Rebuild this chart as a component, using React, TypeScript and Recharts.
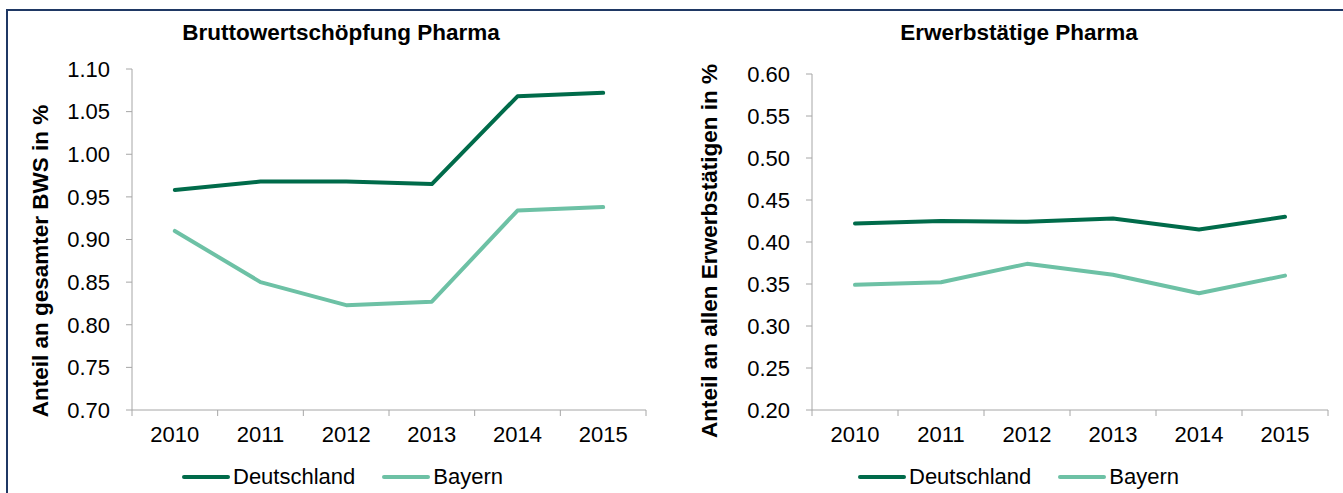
import { CartesianGrid, Legend, Line, LineChart, XAxis, YAxis } from "recharts";

const years = ["2010", "2011", "2012", "2013", "2014", "2015"];

// Bruttowertschöpfung Pharma, Anteil an gesamter BWS in %
const bwsDeutschland = [0.958, 0.968, 0.968, 0.965, 1.068, 1.072];
const bwsBayern = [0.91, 0.85, 0.823, 0.827, 0.934, 0.938];
const bwsTicks = [0.7, 0.75, 0.8, 0.85, 0.9, 0.95, 1.0, 1.05, 1.1];

// Erwerbstätige Pharma, Anteil an allen Erwerbstätigen in %
const etDeutschland = [0.422, 0.425, 0.424, 0.428, 0.415, 0.43];
const etBayern = [0.349, 0.352, 0.374, 0.361, 0.339, 0.36];
const etTicks = [0.2, 0.25, 0.3, 0.35, 0.4, 0.45, 0.5, 0.55, 0.6];

const FONT = "'Liberation Sans', Arial, sans-serif";
const DARK = "#006B4A";
const LIGHT = "#6DC1A5";
const GREY = "#A6A6A6";

const AxisTitle = ({ cx, cy, text }: any) => (
  <text
    x={cx}
    y={cy}
    transform={`rotate(-90 ${cx} ${cy})`}
    textAnchor="middle"
    dominantBaseline="central"
    fontFamily={FONT}
    fontSize={22.5}
    fontWeight="bold"
    fill="#000"
  >
    {text}
  </text>
);

// excel style: tick marks sit between the categories
const YearTick = ({ x, y, payload, index, visibleTicksCount }: any) => {
  const half = payload?.offset || 43;
  const top = y - 16;
  return (
    <g>
      <line x1={x - half} x2={x - half} y1={top} y2={top + 6} stroke={GREY} />
      {index === visibleTicksCount - 1 && (
        <line x1={x + half} x2={x + half} y1={top} y2={top + 6} stroke={GREY} />
      )}
      <text x={x} y={y} dy="0.71em" textAnchor="middle" fontFamily={FONT} fontSize={22} fill="#000">
        {payload.value}
      </text>
    </g>
  );
};

const LegendBox = () => (
  <div style={{ display: "flex", alignItems: "center", fontFamily: FONT, fontSize: 22, height: 24 }}>
    <span style={{ width: 48, height: 4, borderRadius: 2, background: DARK, marginRight: 3 }} />
    <span style={{ marginRight: 27 }}>Deutschland</span>
    <span style={{ width: 48, height: 4, borderRadius: 2, background: LIGHT, marginRight: 3 }} />
    <span>Bayern</span>
  </div>
);

const Panel = ({
  values,
  ticks,
  width,
  top,
  right,
  yTitle,
  titleY,
  titleX,
  legendLeft,
}: {
  values: [number[], number[]];
  ticks: number[];
  width: number;
  top: number;
  right: number;
  yTitle: string;
  titleX: number;
  titleY: number;
  legendLeft: number;
}) => {
  const data = years.map((year, i) => ({
    year,
    deutschland: values[0][i],
    bayern: values[1][i],
  }));
  return (
    <LineChart width={width} height={493} data={data} margin={{ top, right, bottom: 43, left: 0 }}>
      <CartesianGrid horizontal={false} vertical={false} />
      <XAxis
        dataKey="year"
        scale="band"
        height={40}
        axisLine={{ stroke: GREY }}
        tickLine={false}
        tickSize={6}
        tickMargin={10}
        interval={0}
        tick={<YearTick />}
      />
      <YAxis
        width={132}
        domain={[ticks[0], ticks[ticks.length - 1]]}
        ticks={ticks}
        interval={0}
        axisLine={{ stroke: GREY }}
        tickLine={{ stroke: GREY }}
        tickSize={6}
        tickMargin={16}
        tickFormatter={(v: number) => v.toFixed(2)}
        tick={{ fill: "#000", fontSize: 22, fontFamily: FONT }}
        label={<AxisTitle cx={titleX} cy={titleY} text={yTitle} />}
      />
      <Legend
        layout="horizontal"
        verticalAlign="middle"
        align="center"
        content={<LegendBox />}
        wrapperStyle={{ top: 465, left: legendLeft, width: "auto" }}
      />
      <Line
        dataKey="deutschland"
        name="Deutschland"
        stroke={DARK}
        strokeWidth={4}
        dot={false}
        strokeLinejoin="round"
        strokeLinecap="round"
        isAnimationActive={false}
      />
      <Line
        dataKey="bayern"
        name="Bayern"
        stroke={LIGHT}
        strokeWidth={4}
        dot={false}
        strokeLinejoin="round"
        strokeLinecap="round"
        isAnimationActive={false}
      />
    </LineChart>
  );
};

const titleStyle = {
  position: "absolute" as const,
  top: 22,
  fontFamily: FONT,
  fontSize: 22.5,
  fontWeight: "bold" as const,
  lineHeight: "22px",
  textAlign: "center" as const,
  width: 500,
};

export default function App() {
  return (
    <div
      style={{
        position: "absolute",
        left: 0,
        top: 0,
        width: 1343,
        height: 493,
        overflow: "hidden",
        background: "#fff",
      }}
    >
      <div
        style={{
          position: "absolute",
          left: 6,
          top: 9,
          width: 1400,
          height: 600,
          borderLeft: "2px solid #1F3864",
          borderTop: "2px solid #1F3864",
        }}
      />
      <div style={{ ...titleStyle, left: 341 - 250 }}>Bruttowertschöpfung Pharma</div>
      <div style={{ ...titleStyle, left: 1019 - 250 }}>Erwerbstätige Pharma</div>
      <div style={{ position: "absolute", left: 0, top: 0 }}>
        <Panel
          values={[bwsDeutschland, bwsBayern]}
          ticks={bwsTicks}
          width={680}
          top={69}
          right={34}
          yTitle="Anteil an gesamter BWS in %"
          titleX={40}
          titleY={261}
          legendLeft={182}
        />
      </div>
      <div style={{ position: "absolute", left: 680, top: 0 }}>
        <Panel
          values={[etDeutschland, etBayern]}
          ticks={etTicks}
          width={663}
          top={74}
          right={15}
          yTitle="Anteil an allen Erwerbstätigen in %"
          titleX={29}
          titleY={251}
          legendLeft={178}
        />
      </div>
    </div>
  );
}
